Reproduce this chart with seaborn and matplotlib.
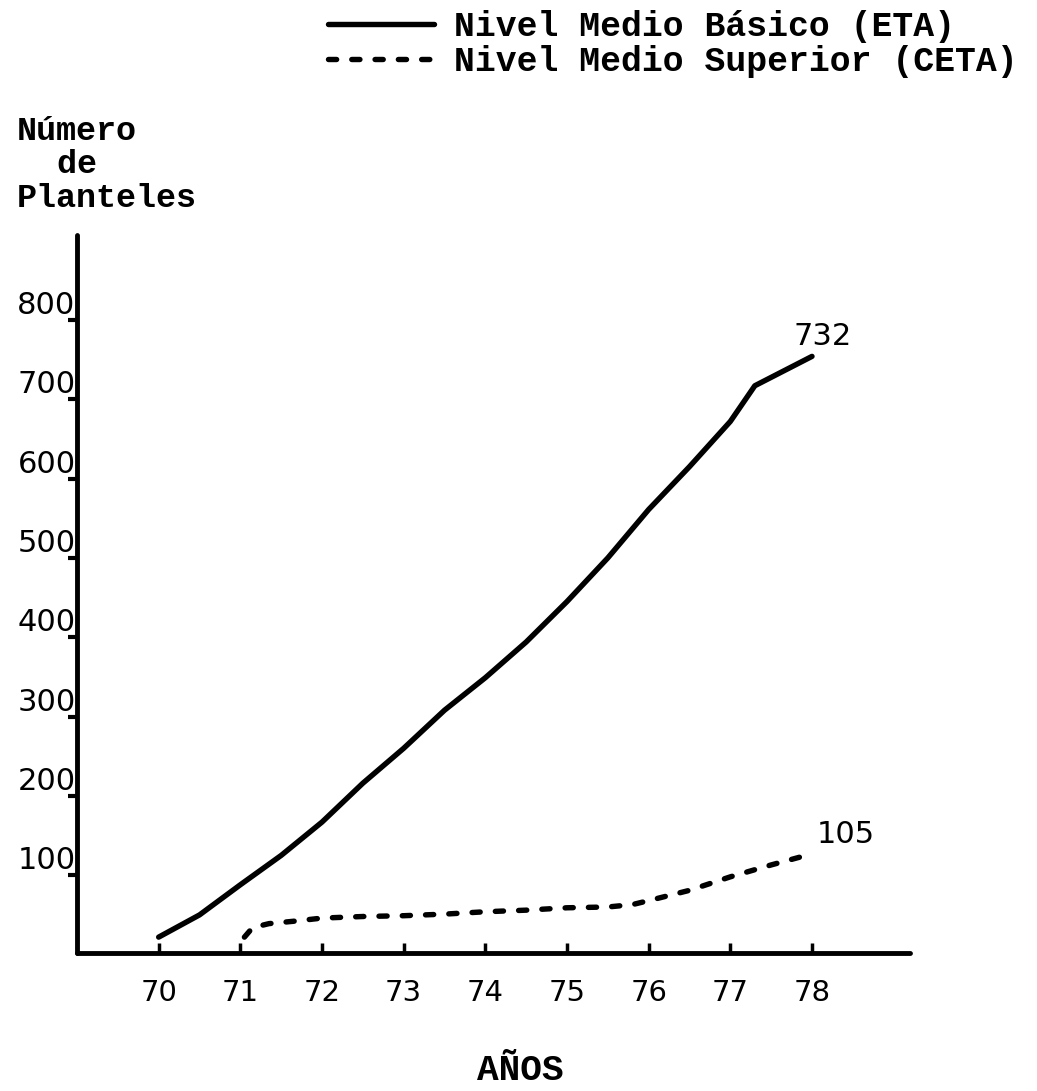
import matplotlib
matplotlib.use("Agg")
import matplotlib.pyplot as plt
import seaborn as sns
import pandas as pd

# ── Datos ─────────────────────────────────────────────────
anios_eta = [70, 70.5, 71, 71.5, 72, 72.5, 73, 73.5, 74, 74.5, 75, 75.5,
             76, 76.5, 77, 77.3, 78]
planteles_eta = [0, 28, 66, 103, 145, 194, 238, 286, 327, 372, 423, 478,
                 539, 593, 650, 695, 732]

anios_ceta = [71.05, 71.15, 71.35, 71.65, 72, 72.5, 73, 73.5, 74, 74.5, 75,
              75.5, 75.8, 76, 76.5, 77, 77.5, 78]
planteles_ceta = [0, 12, 17, 20, 24, 26, 27, 29, 32, 34, 37,
                  38, 41, 46, 59, 76, 91, 105]

niveles = ["Nivel Medio Básico (ETA)", "Nivel Medio Superior (CETA)"]
x_ticks = [70, 71, 72, 73, 74, 75, 76, 77, 78]
y_ticks = [100, 200, 300, 400, 500, 600, 700, 800]

df = pd.concat([
    pd.DataFrame({"anio": anios_eta, "planteles": planteles_eta, "nivel": niveles[0]}),
    pd.DataFrame({"anio": anios_ceta, "planteles": planteles_ceta, "nivel": niveles[1]}),
])

# ── Estilo ────────────────────────────────────────────────
sns.set_style("white", {"text.color": "black", "xtick.color": "black",
                        "ytick.color": "black", "axes.labelcolor": "black",
                        "xtick.bottom": True, "ytick.left": True})
MONO = ["Liberation Mono", "DejaVu Sans Mono"]
NUM = ["DejaVu Sans"]
plt.rcParams["font.family"] = NUM

W, H = 1037, 1091
fig = plt.figure(figsize=(W / 100, H / 100), dpi=100)
ax = fig.add_axes([77 / W, 1 - 953 / H, (910 - 77) / W, (953 - 235) / H])

sns.lineplot(data=df, x="anio", y="planteles", style="nivel",
             dashes={niveles[0]: "", niveles[1]: (1.5, 2.8)},
             color="black", linewidth=3.9, legend=False, ax=ax)
for ln in ax.get_lines():
    ln.set_dash_capstyle("round")
    ln.set_solid_capstyle("round")
    ln.set_solid_joinstyle("round")

ax.set_xlim(69.0, 79.2)
ax.set_ylim(-20, 885)

for s in ["top", "right"]:
    ax.spines[s].set_visible(False)
for s in ["left", "bottom"]:
    ax.spines[s].set_linewidth(3.5)
    ax.spines[s].set_color("black")
    ax.spines[s].set_capstyle("round")

ax.set_xticks(x_ticks)
ax.set_xticklabels([str(v) for v in x_ticks])
ax.tick_params(axis="x", bottom=True, direction="in", length=7, width=2.5,
               pad=19, labelsize=21, color="black", labelcolor="black")

ax.set_yticks(y_ticks)
ax.set_yticklabels([str(v) for v in y_ticks])
ax.tick_params(axis="y", which="major", left=True, length=0, pad=1,
               labelsize=22, labelcolor="black")
ax.set_yticks([v - 22 for v in y_ticks], minor=True)
ax.tick_params(axis="y", which="minor", left=True, direction="out",
               length=6.5, width=3, color="black")

ax.set_xlabel("")
ax.set_ylabel("")

# valores finales
ax.annotate(str(planteles_eta[-1]), (anios_eta[-1], planteles_eta[-1]),
            xytext=(8, 14), textcoords="offset points",
            ha="center", va="center", fontsize=22, color="black")
ax.annotate(str(planteles_ceta[-1]), (anios_ceta[-1], planteles_ceta[-1]),
            xytext=(24, 14), textcoords="offset points",
            ha="center", va="center", fontsize=22, color="black")

# leyenda
leg = fig.legend(handles=ax.get_lines()[:2], labels=niveles, loc="upper left",
                 bbox_to_anchor=(328 / W, 1 - 10 / H), frameon=False,
                 handlelength=3.05, handletextpad=0.57, borderpad=0,
                 borderaxespad=0, labelspacing=0.05,
                 prop={"family": MONO, "size": 25, "weight": "bold"})
for t in leg.get_texts():
    t.set_color("black")

# títulos de ejes
fig.text(17 / W, 1 - 116 / H, "Número\n  de\nPlanteles", ha="left", va="top",
         family=MONO, size=24, weight="bold", linespacing=1.1, color="black")
fig.text(520 / W, 1 - 1070 / H, "AÑOS", ha="center", va="center",
         family=MONO, size=26, weight="bold", color="black")

fig.savefig("out.png", dpi=100, facecolor="white")
